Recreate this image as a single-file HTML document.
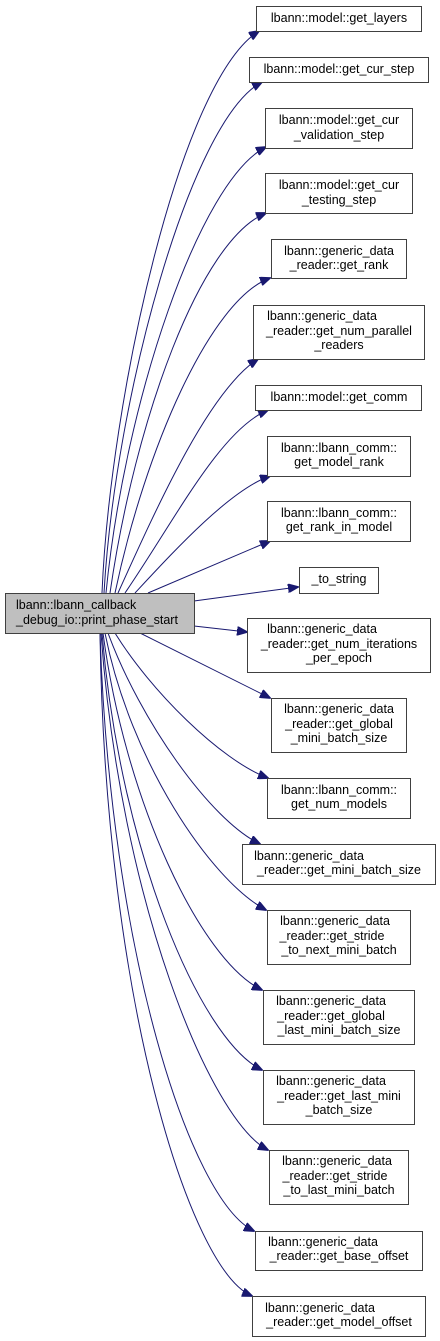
<!DOCTYPE html>
<html><head><style>
body{margin:0;background:#fff;width:440px;height:1341px;overflow:hidden}
svg{display:block}
text{font-family:"Liberation Sans",sans-serif;font-size:12.5px;fill:#000}
</style></head><body>
<svg width="440" height="1341" viewBox="0 0 440 1341" xmlns="http://www.w3.org/2000/svg">
<defs><marker id="a" markerWidth="11" markerHeight="9" refX="10" refY="4.5" orient="auto" markerUnits="userSpaceOnUse"><path d="M0,0 L11,4.5 L0,9 z" fill="#191970" stroke="#191970"/></marker></defs>
<g fill="none" stroke="#191970" stroke-width="1" marker-end="url(#a)">
<path d="M102,593 C110,400 180,80 259,31"/>
<path d="M104,593 C115,400 190,120 262,82"/>
<path d="M106,593 C125,400 200,180 266,147"/>
<path d="M110,593 C135,420 200,240 266,213"/>
<path d="M115,593 C145,450 210,300 270,278"/>
<path d="M118,593 C160,500 210,390 258,359"/>
<path d="M125,593 C175,520 220,430 268,410"/>
<path d="M135,593 C175,550 230,490 270,476"/>
<path d="M148,593 L270,541"/>
<path d="M194,601 L298,587"/>
<path d="M194,626 L247,632"/>
<path d="M140,633 L270,698"/>
<path d="M115,633 C150,690 220,760 268,778"/>
<path d="M108,633 C140,720 210,820 260,844"/>
<path d="M105,633 C130,760 210,880 266,910"/>
<path d="M103,633 C125,800 200,960 262,990"/>
<path d="M102,633 C120,850 200,1040 262,1070"/>
<path d="M101,633 C120,900 210,1120 268,1150"/>
<path d="M100,633 C110,950 190,1200 254,1231"/>
<path d="M100,633 C105,1000 190,1270 252,1296"/>
</g>
<g stroke="#404040" stroke-width="1" fill="#fff">
<rect x="5.5" y="593.5" width="189" height="40" fill="#bfbfbf"/>
<rect x="256.5" y="6.5" width="165" height="25"/>
<rect x="249.5" y="57.5" width="179" height="25"/>
<rect x="265.5" y="108.5" width="147" height="40"/>
<rect x="265.5" y="173.5" width="147" height="40"/>
<rect x="271.5" y="239.5" width="135" height="39"/>
<rect x="253.5" y="305.5" width="171" height="54"/>
<rect x="255.5" y="385.5" width="166" height="25"/>
<rect x="267.5" y="436.5" width="143" height="40"/>
<rect x="267.5" y="501.5" width="143" height="40"/>
<rect x="299.5" y="567.5" width="79" height="26"/>
<rect x="247.5" y="618.5" width="183" height="54"/>
<rect x="271.5" y="698.5" width="135" height="54"/>
<rect x="267.5" y="778.5" width="143" height="40"/>
<rect x="242.5" y="844.5" width="193" height="40"/>
<rect x="267.5" y="910.5" width="143" height="54"/>
<rect x="263.5" y="990.5" width="151" height="54"/>
<rect x="263.5" y="1070.5" width="151" height="54"/>
<rect x="269.5" y="1150.5" width="139" height="54"/>
<rect x="255.5" y="1231.5" width="167" height="39"/>
<rect x="252.5" y="1296.5" width="173" height="40"/>
</g>
<text x="16" y="609">lbann::lbann_callback</text>
<text x="16" y="624">_debug_io::print_phase_start</text>
<g text-anchor="middle">
<text x="339" y="22">lbann::model::get_layers</text>
<text x="339" y="73">lbann::model::get_cur_step</text>
<text x="339" y="124">lbann::model::get_cur</text><text x="339" y="139">_validation_step</text>
<text x="339" y="189">lbann::model::get_cur</text><text x="339" y="204">_testing_step</text>
<text x="339" y="255">lbann::generic_data</text><text x="339" y="269">_reader::get_rank</text>
<text x="322" y="320">lbann::generic_data</text><text x="339" y="335">_reader::get_num_parallel</text><text x="339" y="349">_readers</text>
<text x="339" y="401">lbann::model::get_comm</text>
<text x="339" y="452">lbann::lbann_comm::</text><text x="339" y="466">get_model_rank</text>
<text x="339" y="517">lbann::lbann_comm::</text><text x="339" y="531">get_rank_in_model</text>
<text x="339" y="583">_to_string</text>
<text x="322" y="633">lbann::generic_data</text><text x="339" y="648">_reader::get_num_iterations</text><text x="339" y="662">_per_epoch</text>
<text x="339" y="713">lbann::generic_data</text><text x="339" y="728">_reader::get_global</text><text x="339" y="742">_mini_batch_size</text>
<text x="339" y="794">lbann::lbann_comm::</text><text x="339" y="808">get_num_models</text>
<text x="309" y="860">lbann::generic_data</text><text x="339" y="874">_reader::get_mini_batch_size</text>
<text x="335" y="925">lbann::generic_data</text><text x="332" y="940">_reader::get_stride</text><text x="339" y="954">_to_next_mini_batch</text>
<text x="331" y="1005">lbann::generic_data</text><text x="331" y="1020">_reader::get_global</text><text x="339" y="1034">_last_mini_batch_size</text>
<text x="331" y="1085">lbann::generic_data</text><text x="339" y="1100">_reader::get_last_mini</text><text x="339" y="1114">_batch_size</text>
<text x="337" y="1165">lbann::generic_data</text><text x="335" y="1180">_reader::get_stride</text><text x="339" y="1194">_to_last_mini_batch</text>
<text x="323" y="1246">lbann::generic_data</text><text x="339" y="1260">_reader::get_base_offset</text>
<text x="320" y="1312">lbann::generic_data</text><text x="339" y="1326">_reader::get_model_offset</text>
</g>
</svg>
</body></html>
